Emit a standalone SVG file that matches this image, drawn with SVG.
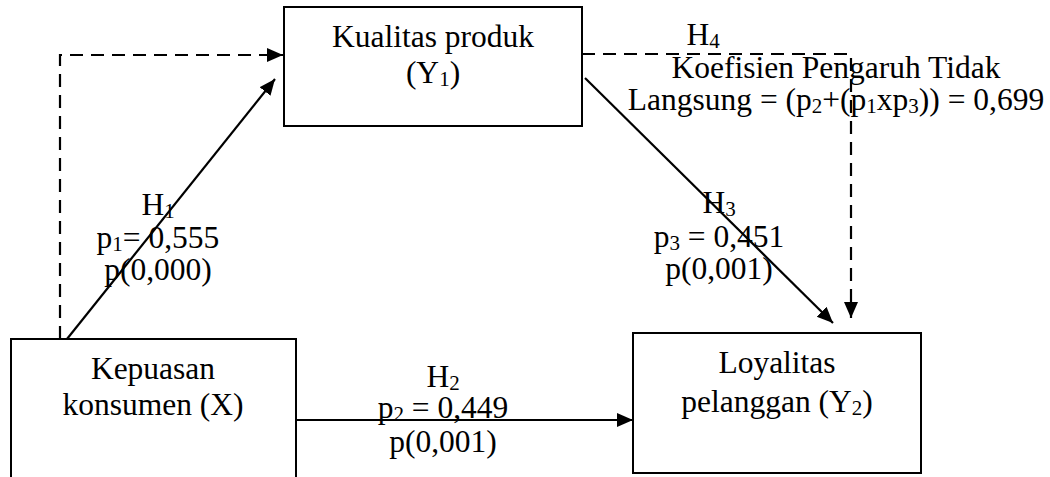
<svg xmlns="http://www.w3.org/2000/svg" width="1050" height="477" viewBox="0 0 1050 477">
<style>
.box{fill:#fff;stroke:#000;stroke-width:2}
.t{font-family:"Liberation Serif","Times New Roman",serif;font-size:31.5px;fill:#000;text-anchor:middle}
.s{font-size:21px}
.ln{fill:none;stroke:#000;stroke-width:2.2}
.dash{stroke-dasharray:13 8}
</style>
<defs>
<marker id="ah" markerUnits="userSpaceOnUse" markerWidth="18" markerHeight="16" refX="16" refY="7" orient="auto">
<path d="M0,0 L16,7 L0,14 Z" fill="#000"/>
</marker>
</defs>
<rect width="1050" height="477" fill="#fff"/>
<g id="node-kualitas">
<rect class="box" x="284" y="7" width="298" height="119"/>
<text class="t" x="433" y="47">Kualitas produk</text>
<text class="t" x="433" y="83">(Y<tspan class="s" dy="3">1</tspan><tspan dy="-3">)</tspan></text>
</g>
<g id="node-kepuasan">
<rect class="box" x="11" y="339" width="285" height="160"/>
<text class="t" x="153" y="379">Kepuasan</text>
<text class="t" x="153" y="415">konsumen (X)</text>
</g>
<g id="node-loyalitas">
<rect class="box" x="633" y="333" width="288" height="140"/>
<text class="t" x="777" y="373">Loyalitas</text>
<text class="t" x="777" y="412">pelanggan (Y<tspan class="s" dy="3">2</tspan><tspan dy="-3">)</tspan></text>
</g>
<g id="connectors">
<path class="ln dash" d="M60,339 L60,55 L283,55" marker-end="url(#ah)"/>
<line class="ln" x1="67" y1="339" x2="275" y2="79" marker-end="url(#ah)"/>
<line class="ln" x1="296" y1="420" x2="633" y2="420" marker-end="url(#ah)"/>
<line class="ln" x1="585" y1="78" x2="833" y2="323" marker-end="url(#ah)"/>
<path class="ln dash" d="M582,54 L851,54 L851,318" marker-end="url(#ah)"/>
</g>
<g id="labels">
<text class="t" x="158" y="215">H<tspan class="s" dy="3">1</tspan></text>
<text class="t" x="158" y="248">p<tspan class="s" dy="3">1</tspan><tspan dy="-3">= 0,555</tspan></text>
<text class="t" x="158" y="280">p(0,000)</text>
<text class="t" x="443" y="387">H<tspan class="s" dy="3">2</tspan></text>
<text class="t" x="443" y="418">p<tspan class="s" dy="3">2</tspan><tspan dy="-3"> = 0,449</tspan></text>
<text class="t" x="443" y="452">p(0,001)</text>
<text class="t" x="719" y="213">H<tspan class="s" dy="3">3</tspan></text>
<text class="t" x="719" y="247">p<tspan class="s" dy="3">3</tspan><tspan dy="-3"> = 0,451</tspan></text>
<text class="t" x="719" y="279">p(0,001)</text>
<text class="t" x="703" y="45">H<tspan class="s" dy="3">4</tspan></text>
<text class="t" x="836" y="78">Koefisien Pengaruh Tidak</text>
<text class="t" x="836" y="110">Langsung = (p<tspan class="s" dy="3">2</tspan><tspan dy="-3">+(p</tspan><tspan class="s" dy="3">1</tspan><tspan dy="-3">xp</tspan><tspan class="s" dy="3">3</tspan><tspan dy="-3">)) = 0,699</tspan></text>
</g>
</svg>
